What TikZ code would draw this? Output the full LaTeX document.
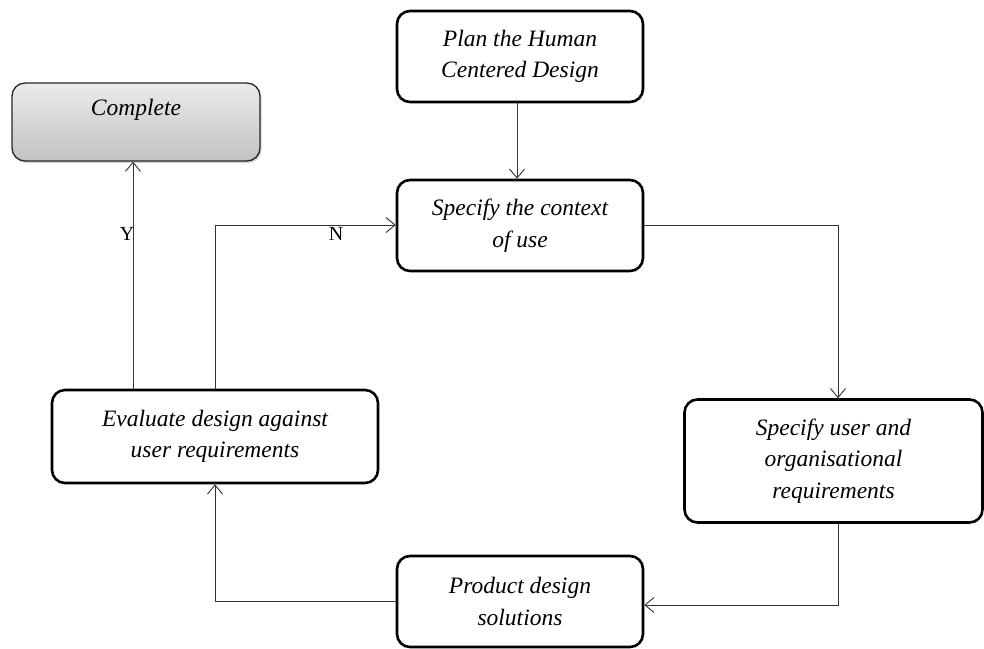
\documentclass[tikz,border=0pt]{standalone}
\usepackage{fontspec}
\setmainfont{Liberation Serif}
\usetikzlibrary{arrows.meta,shadows,calc}
\begin{document}
\begin{tikzpicture}[x=1pt,y=-1pt,
  box/.style={draw=black,line width=2.6pt,rounded corners=13pt,fill=white,
    align=center,inner sep=0pt,font=\fontsize{23.5}{31.5}\selectfont\itshape},
  conn/.style={line width=0.9pt,draw=black!80,-{Straight Barb[length=9pt,width=15pt,line width=0.9pt]}},
  lbl/.style={font=\fontsize{20}{22}\selectfont,inner sep=0pt}]
\useasboundingbox (0,0) rectangle (984,648);
\node[box,minimum width=246pt,minimum height=91pt] (plan) at (520,56.5) {Plan the Human\\Centered Design};
\node[box,minimum width=246pt,minimum height=91pt] (ctx) at (520,225.5) {Specify the context\\of use};
\node[draw=black!85,line width=1.3pt,rounded corners=13pt,minimum width=248pt,minimum height=78pt,
  top color=black!8,bottom color=black!24,drop shadow={shadow xshift=1.5pt,shadow yshift=-2pt,opacity=0.35},
  label={[font=\fontsize{23.5}{27}\selectfont\itshape,yshift=12pt]center:Complete}] (comp) at (136,122) {};
\node[box,minimum width=298pt,minimum height=123pt] (user) at (833.5,461) {Specify user and\\organisational\\requirements};
\node[box,minimum width=246pt,minimum height=91pt] (prod) at (520,601.5) {Product design\\solutions};
\node[box,minimum width=326pt,minimum height=93pt] (eval) at (215,436.5) {Evaluate design against\\user requirements};
\coordinate (c1) at (838,225);
\coordinate (c2) at (838,605);
\coordinate (c3) at (215,601);
\coordinate (c4) at (215,225);
\draw[conn] (plan.south -| 517,0) -- (ctx.north -| 517,0);
\draw[conn] (ctx.east |- c1) -- (c1) -- (user.north -| c1);
\draw[conn] (user.south -| c2) -- (c2) -- (prod.east |- c2);
\draw[conn] (prod.west |- c3) -- (c3) -- (eval.south -| c3);
\draw[conn] (eval.north -| c4) -- (c4) -- (ctx.west |- c4);
\draw[conn] (eval.north -| 133,0) -- (comp.south -| 133,0);
\node[lbl] (ylab) at (127,234) {Y};
\node[lbl] (nlab) at (336,234) {N};
\end{tikzpicture}
\end{document}
